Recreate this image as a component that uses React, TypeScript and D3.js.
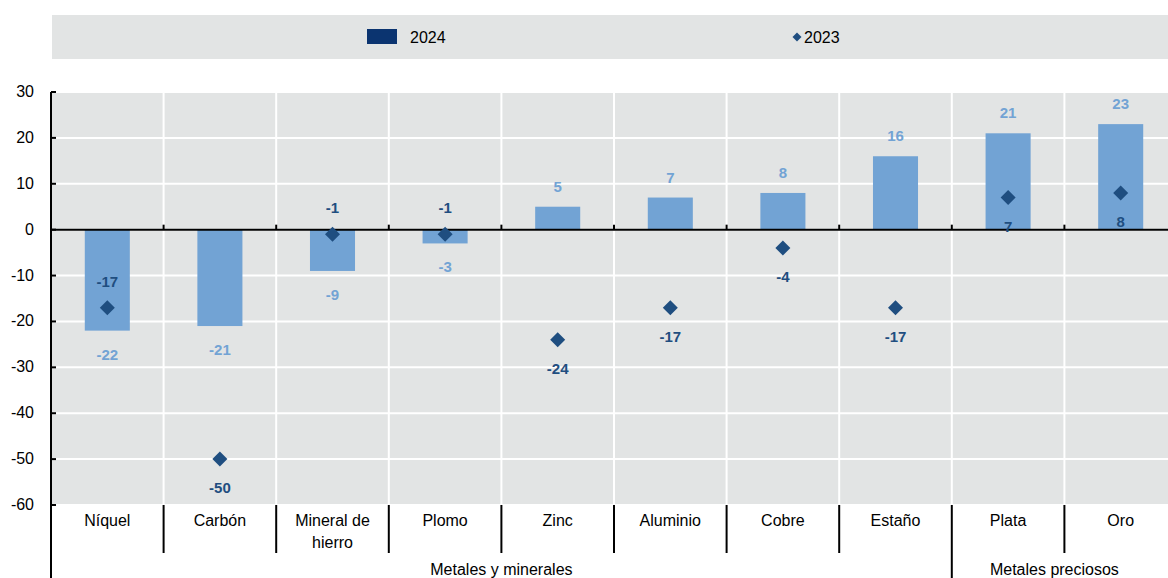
import React from "react";
import * as d3 from "d3";

const categories = ["Níquel", "Carbón", "Mineral de hierro", "Plomo", "Zinc", "Aluminio", "Cobre", "Estaño", "Plata", "Oro"];
const values2024 = [-22, -21, -9, -3, 5, 7, 8, 16, 21, 23];
const values2023 = [-17, -50, -1, -1, -24, -17, -4, -17, 7, 8];
const label2023Above = [true, false, true, true, false, false, false, false, false, false];
const yTicks = [30, 20, 10, 0, -10, -20, -30, -40, -50, -60];
const groups = [
  { name: "Metales y minerales", start: 0, end: 8 },
  { name: "Metales preciosos", start: 8, end: 10 },
];
const seriesNames = ["2024", "2023"];

const W = 1168, H = 578;
const left = 51, right = 1177, top = 92, bottom = 505;
const FONT = "'Liberation Sans Narrow', 'Arial Narrow', 'Liberation Sans', Arial, sans-serif";
const BAR = "#72A3D4";
const DIA = "#1F4E80";
const GREY = "#E2E4E4";

const diamondPath = (r: number) => {
  const p = d3.path();
  p.moveTo(0, -r);
  p.lineTo(r, 0);
  p.lineTo(0, r);
  p.lineTo(-r, 0);
  p.closePath();
  return p.toString();
};

export default function App() {
  const x = d3.scaleBand<string>().domain(categories).range([left, right]).paddingInner(0.6).paddingOuter(0.3);
  const xb = d3.scaleBand<string>().domain(categories).range([left, right]);
  const y = d3.scaleLinear().domain([-60, 30]).range([bottom, top]);
  const step = xb.step();
  const diamond = diamondPath(7.5);

  return (
    <div style={{ position: "absolute", left: 0, top: 0 }}>
      <svg width={W} height={H} style={{ display: "block", fontFamily: FONT }}>
        <rect x={0} y={0} width={W} height={H} fill="#fff" />
        {/* legend */}
        <rect x={52} y={15} width={W - 52} height={44} fill={GREY} />
        <rect x={367} y={29} width={30} height={15} fill="#0B3470" />
        <text x={410} y={43} fontSize={16} fill="#000">{seriesNames[0]}</text>
        <path d={diamondPath(4.5)} transform="translate(797,37)" fill={DIA} />
        <text x={804} y={43} fontSize={16} fill="#000">{seriesNames[1]}</text>

        {/* plot background */}
        <rect x={left} y={top} width={right - left} height={bottom - top} fill={GREY} />
        {yTicks.map((t) => (
          <line key={"g" + t} x1={left} x2={right} y1={y(t)} y2={y(t)} stroke="#fff" strokeWidth={2} />
        ))}
        {categories.slice(1).map((c) => (
          <line key={"v" + c} x1={xb(c)!} x2={xb(c)!} y1={top} y2={bottom} stroke="#fff" strokeWidth={2} />
        ))}

        {/* bars */}
        {categories.map((c, i) => (
          <rect key={"b" + c} x={x(c)!} width={x.bandwidth()} y={y(Math.max(0, values2024[i]))}
            height={Math.abs(y(values2024[i]) - y(0))} fill={BAR} />
        ))}

        {/* zero line */}
        <line x1={left} x2={right} y1={y(0)} y2={y(0)} stroke="#000" strokeWidth={2} />
        {categories.slice(1).map((c) => (
          <line key={"zt" + c} x1={xb(c)!} x2={xb(c)!} y1={y(0)} y2={y(0) - 5} stroke="#000" strokeWidth={2} />
        ))}

        {/* bar labels */}
        {categories.map((c, i) => {
          const v = values2024[i];
          const cx = x(c)! + x.bandwidth() / 2;
          const ty = v >= 0 ? y(v) - 15 : y(v) + 29;
          return (
            <text key={"bl" + c} x={cx} y={ty} textAnchor="middle" fontSize={15} fill={BAR} fontWeight="bold">{v}</text>
          );
        })}

        {/* diamonds */}
        {categories.map((c, i) => {
          const cx = x(c)! + x.bandwidth() / 2;
          const cy = y(values2023[i]);
          return <path key={"d" + c} d={diamond} transform={`translate(${cx},${cy})`} fill={DIA} />;
        })}
        {categories.map((c, i) => {
          const cx = x(c)! + x.bandwidth() / 2;
          const cy = y(values2023[i]);
          const ty = label2023Above[i] ? cy - 21 : cy + 34;
          return (
            <text key={"dl" + c} x={cx} y={ty} textAnchor="middle" fontSize={15} fill={DIA} fontWeight="bold">{values2023[i]}</text>
          );
        })}

        {/* y axis */}
        <line x1={left} x2={left} y1={top} y2={H} stroke="#000" strokeWidth={2} />
        {yTicks.map((t) => (
          <g key={"t" + t}>
            <line x1={left} x2={left + 5} y1={y(t)} y2={y(t)} stroke="#000" strokeWidth={2} />
            <text x={34} y={y(t) + 5} textAnchor="end" fontSize={16} fill="#000">{t}</text>
          </g>
        ))}

        {/* category axis */}
        {categories.slice(1).map((c, i) => {
          const isGroupBoundary = groups.some((g) => g.start === i + 1);
          return (
            <line key={"s" + c} x1={xb(c)!} x2={xb(c)!} y1={bottom} y2={isGroupBoundary ? H : 553} stroke="#000" strokeWidth={2} />
          );
        })}
        {categories.map((c) => {
          const cx = xb(c)! + step / 2;
          const words = c === "Mineral de hierro" ? ["Mineral de", "hierro"] : [c];
          return (
            <text key={"cl" + c} x={cx} y={526} textAnchor="middle" fontSize={16} fill="#000">
              {words.map((w, k) => (
                <tspan key={k} x={cx} dy={k === 0 ? 0 : 22}>{w}</tspan>
              ))}
            </text>
          );
        })}
        {groups.map((g) => {
          const x0 = xb(categories[g.start])!;
          const x1 = g.end >= categories.length ? right : xb(categories[g.end])!;
          return (
            <text key={g.name} x={(x0 + x1) / 2 - (g.end >= categories.length ? 10 : 0)} y={575} textAnchor="middle" fontSize={16} fill="#000">{g.name}</text>
          );
        })}
      </svg>
    </div>
  );
}
